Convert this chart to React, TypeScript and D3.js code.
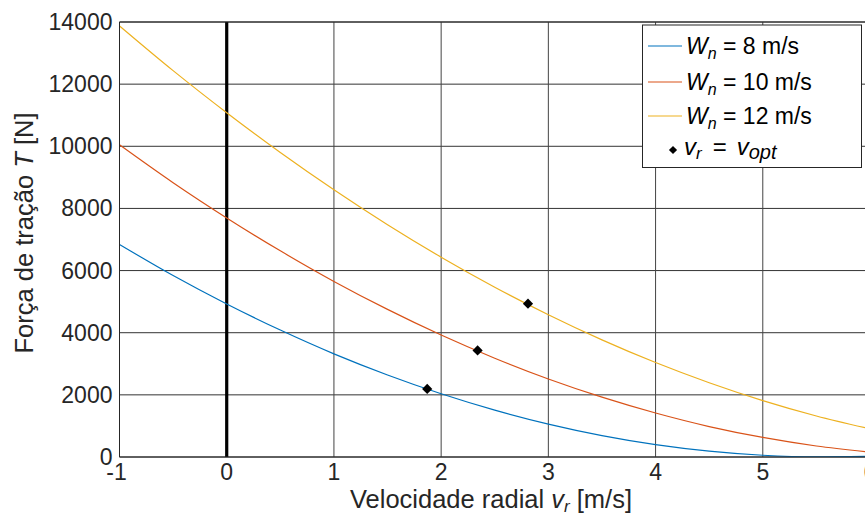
import React from "react";
import * as d3 from "d3";

// Radial velocity samples [m/s]
const vr = [-1, -0.5, 0, 0.5, 1, 1.5, 2, 2.5, 3, 3.5, 4, 4.5, 5, 5.5, 6];

// Traction force T [N] for each nominal wind speed
const tW8 = [6840, 5840, 4925, 4085, 3320, 2640, 2035, 1510, 1060, 690, 400, 190, 57, 3, 20];
const tW10 = [10050, 8830, 7695, 6635, 5650, 4750, 3925, 3180, 2510, 1925, 1415, 980, 630, 355, 157];
const tW12 = [13875, 12435, 11080, 9800, 8600, 7475, 6430, 5465, 4580, 3770, 3040, 2390, 1815, 1320, 905];

// Optimal operating points (v_r = v_opt)
const optV = [1.87, 2.34, 2.81];
const optT = [2190, 3430, 4935];

const seriesNames = ["8", "10", "12"];
const seriesColors = ["#0072BD", "#D95319", "#EDB120"];
const xTicks = [-1, 0, 1, 2, 3, 4, 5, 6];
const yTicks = [0, 2000, 4000, 6000, 8000, 10000, 12000, 14000];

const W = 865;
const H = 516;
const left = 119.5;
const right = 870;
const top = 22;
const bottom = 457;
const font = "'Liberation Sans', Arial, Helvetica, sans-serif";

export default function App() {
  const x = d3.scaleLinear().domain([-1, 6]).range([left, right]);
  const y = d3.scaleLinear().domain([0, 14000]).range([bottom, top]);
  const series = [tW8, tW10, tW12];
  const line = d3
    .line<number>()
    .x((_, i) => x(vr[i]))
    .y((d) => y(d))
    .curve(d3.curveMonotoneX);
  const diamond = d3.symbol().type(d3.symbolSquare).size(52)();
  const diamondSmall = d3.symbol().type(d3.symbolSquare).size(34)();

  const legX = 642.5;
  const legY = 25;
  const legRows = [46, 82, 116, 150];

  return (
    <svg
      width={W}
      height={H}
      style={{ position: "absolute", left: 0, top: 0, background: "#fff" }}
      fontFamily={font}
    >
      <defs>
        <clipPath id="plotArea">
          <rect x={left} y={top} width={right - left} height={bottom - top} />
        </clipPath>
      </defs>
      <rect x={0} y={0} width={W} height={H} fill="#fff" />

      {/* grid */}
      {yTicks.map((t) => (
        <line
          key={"gy" + t}
          x1={left}
          x2={right}
          y1={y(t)}
          y2={y(t)}
          stroke="#333"
          strokeWidth={1}
        />
      ))}
      {xTicks.map((t) => (
        <line
          key={"gx" + t}
          x1={x(t)}
          x2={x(t)}
          y1={top}
          y2={bottom}
          stroke="#444"
          strokeWidth={1}
        />
      ))}

      {/* vertical reference at v_r = 0 */}
      <line x1={x(0)} x2={x(0)} y1={top} y2={bottom} stroke="#000" strokeWidth={3.2} />

      {/* curves */}
      <g clipPath="url(#plotArea)">
        {series.map((s, i) => (
          <path key={i} d={line(s) || ""} fill="none" stroke={seriesColors[i]} strokeWidth={1.2} />
        ))}
        {optV.map((v, i) => (
          <path
            key={"o" + i}
            d={diamond || ""}
            transform={`translate(${x(v)},${y(optT[i])}) rotate(45)`}
            fill="#000"
          />
        ))}
      </g>

      {/* axes box */}
      <line x1={left} x2={right} y1={top} y2={top} stroke="#262626" strokeWidth={1} />
      <line x1={left} x2={right} y1={bottom} y2={bottom} stroke="#262626" strokeWidth={1} />
      <line x1={left} x2={left} y1={top} y2={bottom} stroke="#262626" strokeWidth={1} />

      {/* tick labels */}
      {yTicks.map((t) => (
        <text
          key={"ty" + t}
          x={left - 7}
          y={y(t)}
          dy="0.35em"
          textAnchor="end"
          fontSize={23}
          fill="#262626"
        >
          {t}
        </text>
      ))}
      {xTicks.map((t) => (
        <text
          key={"tx" + t}
          x={x(t) - (t < 0 ? 3 : 0)}
          y={bottom + 23}
          textAnchor="middle"
          fontSize={23}
          fill="#262626"
        >
          {t}
        </text>
      ))}

      {/* axis labels */}
      <text x={491} y={508} textAnchor="middle" fontSize={25.5} fill="#262626">
        Velocidade radial{" "}
        <tspan fontStyle="italic">v</tspan>
        <tspan fontStyle="italic" fontSize={17} dy={4}>
          r
        </tspan>
        <tspan dy={-4}> [m/s]</tspan>
      </text>
      <text
        transform={`translate(33,233) rotate(-90)`}
        textAnchor="middle"
        fontSize={25.5}
        fill="#262626"
      >
        Força de tração{"  "}
        <tspan fontStyle="italic">T</tspan> [N]
      </text>

      {/* legend */}
      <rect
        x={legX}
        y={legY}
        width={861.5 - legX}
        height={167.5 - legY}
        fill="#fff"
        stroke="#262626"
        strokeWidth={1}
      />
      {seriesNames.map((n, i) => (
        <g key={"l" + i}>
          <line
            x1={648}
            x2={682}
            y1={legRows[i]}
            y2={legRows[i]}
            stroke={seriesColors[i]}
            strokeWidth={1.2}
          />
          <text x={686} y={legRows[i]} dy="0.36em" fontSize={23} fill="#000">
            <tspan fontStyle="italic">W</tspan>
            <tspan fontStyle="italic" fontSize={16} dy={5}>
              n
            </tspan>
            <tspan dy={-5}>{` = ${n} m/s`}</tspan>
          </text>
        </g>
      ))}
      <path
        d={diamondSmall || ""}
        transform={`translate(673,${legRows[3]}) rotate(45)`}
        fill="#000"
      />
      <text x={684} y={155} fontSize={24} fill="#000" fontStyle="italic">
        v<tspan fontSize={17} dy={4}>r</tspan>
        <tspan dy={-4} dx={11} fontStyle="normal">=</tspan>
        <tspan dx={10}>v</tspan>
        <tspan fontSize={20} dy={4}>opt</tspan>
      </text>
    </svg>
  );
}
